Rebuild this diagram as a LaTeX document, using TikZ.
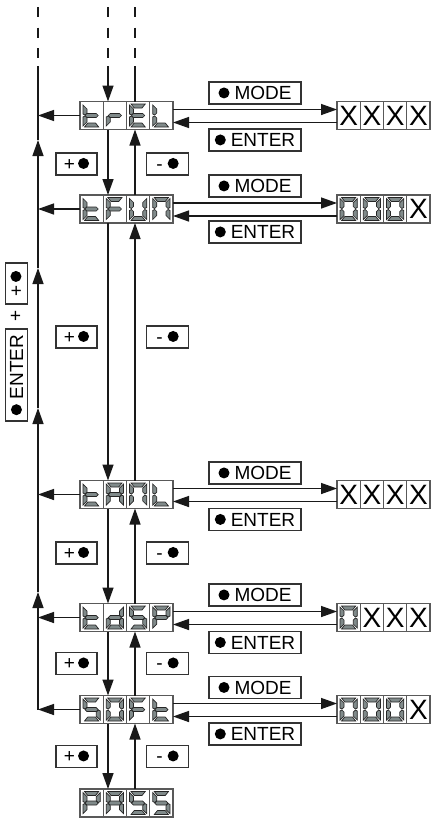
\documentclass[tikz,border=0pt]{standalone}
\usepackage{fontspec}
\setmainfont{Liberation Sans}
\usetikzlibrary{arrows.meta,calc,positioning}

\newcommand{\btndot}{\tikz[baseline=-6.6pt]\fill (0,0) circle (5.5pt);}

\tikzset{
  segstyle/.style={fill={rgb, 255:red, 128; green, 138; blue, 138},draw=black!85,line width=0.7pt},
  seg a/.pic={\path[segstyle] (4.5,2.5) -- (18.75,2.5) -- (15.5,6.5) -- (7.75,6.5) -- cycle;},
  seg d/.pic={\path[segstyle] (4.5,25.5) -- (18.75,25.5) -- (15.5,21.5) -- (7.75,21.5) -- cycle;},
  seg g/.pic={\path[segstyle] (5,14) -- (7,12) -- (16.25,12) -- (18.25,14) -- (16.25,16) -- (7,16) -- cycle;},
  seg f/.pic={\path[segstyle] (3,3.5) -- (7,7.5) -- (7,11.5) -- (5,13.5) -- (3,12.5) -- cycle;},
  seg b/.pic={\path[segstyle] (20.25,3.5) -- (16.25,7.5) -- (16.25,11.5) -- (18.25,13.5) -- (20.25,12.5) -- cycle;},
  seg e/.pic={\path[segstyle] (3,15.5) -- (5,14.5) -- (7,16.5) -- (7,20.5) -- (3,24.5) -- cycle;},
  seg c/.pic={\path[segstyle] (20.25,15.5) -- (18.25,14.5) -- (16.25,16.5) -- (16.25,20.5) -- (20.25,24.5) -- cycle;},
  seg X/.pic={\node[inner sep=0pt,font=\fontsize{28}{28}\selectfont] at (11.625,14) {X};},
}

% four cells of a display: #1 node, #2 segments of each cell
\newcommand{\cells}[2]{%
  \foreach \k in {1,2,3}
    \draw[celldiv] ($(#1.north west)+(\k*23.25,0)$) -- ($(#1.south west)+(\k*23.25,0)$);
  \foreach \segs [count=\i from 0] in {#2}
    \foreach \s in \segs
      \pic at ($(#1.north west)+(\i*23.25,0)$) {seg \s};
}

\begin{document}
\begin{tikzpicture}[x=1pt,y=-1pt,
  flow/.style={line width=1.4pt,draw=black!90,-{Triangle[length=16pt,width=11pt]}},
  bus/.style={line width=1.4pt,draw=black!90},
  topdash/.style={line width=2pt,draw=black!90,dash pattern=on 10pt off 10.5pt},
  disp/.style={draw=black!65,line width=1.2pt,minimum width=93pt,minimum height=28pt,inner sep=0pt,outer sep=0pt},
  celldiv/.style={draw=black!65,line width=1pt},
  keybox/.style={draw=black!80,line width=1.1pt,minimum height=22pt,inner sep=0pt,outer sep=0pt,font=\fontsize{19}{19}\selectfont},
  plusfont/.style={font=\fontsize{19}{19}\selectfont},
]
\useasboundingbox (0,0) rectangle (431,819);

%Displays of the menu
\node[disp] (trel) at (126.5,115.5) {};
\node[disp] (tfun) at (126.5,209) {};
\node[disp] (tanl) at (126.5,494.5) {};
\node[disp] (tdsp) at (126.5,617.5) {};
\node[disp] (soft) at (126.5,709.5) {};
\node[disp] (pass) at (126.5,803) {};
\cells{trel}{{d,e,f,g},{e,g},{a,d,e,f,g},{d,e,f}}
\cells{tfun}{{d,e,f,g},{a,e,f,g},{b,c,d,e,f},{a,b,c,e,f}}
\cells{tanl}{{d,e,f,g},{a,b,c,e,f,g},{a,b,c,e,f},{d,e,f}}
\cells{tdsp}{{d,e,f,g},{b,c,d,e,g},{a,c,d,f,g},{a,b,e,f,g}}
\cells{soft}{{a,c,d,f,g},{a,b,c,d,e,f},{a,e,f,g},{d,e,f,g}}
\cells{pass}{{a,b,e,f,g},{a,b,c,e,f,g},{a,c,d,f,g},{a,c,d,f,g}}

%Displays of the values
\node[disp] (val1) at (383.5,115.5) {};
\node[disp] (val2) at (383.5,209) {};
\node[disp] (val3) at (383.5,494.5) {};
\node[disp] (val4) at (383.5,617.5) {};
\node[disp] (val5) at (383.5,709.5) {};
\cells{val1}{X,X,X,X}
\cells{val2}{{a,b,c,d,e,f},{a,b,c,d,e,f},{a,b,c,d,e,f},X}
\cells{val3}{X,X,X,X}
\cells{val4}{{a,b,c,d,e,f},X,X,X}
\cells{val5}{{a,b,c,d,e,f},{a,b,c,d,e,f},{a,b,c,d,e,f},X}

%Lines coming from above
\draw[topdash] (38,7) -- (38,58);
\draw[topdash] (108,7) -- (108,58);
\draw[topdash] (135,7) -- (135,58);
\coordinate (bus0) at (38,66);
\coordinate (in0) at (108,66);
\coordinate (out0) at (135,66);
\draw[flow] (in0) -- (in0 |- trel.north);
\draw[bus] (out0 |- trel.north) -- (out0);

%Return line on the left
\coordinate (up1) at (38,140);
\coordinate (up2) at (38,268);
\coordinate (up3) at (38,408);
\coordinate (up4) at (38,592);
\coordinate (bus1) at (soft.west -| bus0);
\draw[flow] (bus1) -- (up4);
\draw[flow] (up4) -- (up3);
\draw[flow] (up3) -- (up2);
\draw[flow] (up2) -- (up1);
\draw[bus] (up1) -- (bus0);
\draw[flow] (trel.west) -- (trel.west -| bus0);
\draw[flow] (tfun.west) -- (tfun.west -| bus0);
\draw[flow] (tanl.west) -- (tanl.west -| bus0);
\draw[flow] (tdsp.west) -- (tdsp.west -| bus0);
\draw[flow] (soft.west) -- (bus1);

%Down and up between the menu displays
\draw[flow] ([xshift=-18.5pt]trel.south) -- ([xshift=-18.5pt]tfun.north);
\draw[flow] ([xshift=8.5pt]tfun.north) -- ([xshift=8.5pt]trel.south);
\draw[flow] ([xshift=-18.5pt]tfun.south) -- ([xshift=-18.5pt]tanl.north);
\draw[flow] ([xshift=8.5pt]tanl.north) -- ([xshift=8.5pt]tfun.south);
\draw[flow] ([xshift=-18.5pt]tanl.south) -- ([xshift=-18.5pt]tdsp.north);
\draw[flow] ([xshift=8.5pt]tdsp.north) -- ([xshift=8.5pt]tanl.south);
\draw[flow] ([xshift=-18.5pt]tdsp.south) -- ([xshift=-18.5pt]soft.north);
\draw[flow] ([xshift=8.5pt]soft.north) -- ([xshift=8.5pt]tdsp.south);
\draw[flow] ([xshift=-18.5pt]soft.south) -- ([xshift=-18.5pt]pass.north);
\draw[flow] ([xshift=8.5pt]pass.north) -- ([xshift=8.5pt]soft.south);

%To the values and back
\foreach \m/\v in {trel/val1,tfun/val2,tanl/val3,tdsp/val4,soft/val5} {
  \draw[flow] ($(\m.east)+(0,-6)$) -- ($(\v.west)+(0,-6)$);
  \draw[flow] ($(\v.west)+(0,7)$) -- ($(\m.east)+(0,7)$);
}

% Key Nodes
\node[keybox,minimum width=92pt] (mode1) at (255,93) {\btndot\hspace{5pt}MODE};
\node[keybox,minimum width=92pt] (enter1) at (255,140) {\btndot\hspace{5pt}ENTER};
\node[keybox,minimum width=92pt] (mode2) at (255,186) {\btndot\hspace{5pt}MODE};
\node[keybox,minimum width=92pt] (enter2) at (255,232) {\btndot\hspace{5pt}ENTER};
\node[keybox,minimum width=92pt] (mode3) at (255,473) {\btndot\hspace{5pt}MODE};
\node[keybox,minimum width=92pt] (enter3) at (255,519.5) {\btndot\hspace{5pt}ENTER};
\node[keybox,minimum width=92pt] (mode4) at (255,595) {\btndot\hspace{5pt}MODE};
\node[keybox,minimum width=92pt] (enter4) at (255,642.5) {\btndot\hspace{5pt}ENTER};
\node[keybox,minimum width=92pt] (mode5) at (255,687.5) {\btndot\hspace{5pt}MODE};
\node[keybox,minimum width=92pt] (enter5) at (255,734) {\btndot\hspace{5pt}ENTER};

% Plus and minus keys
\foreach \y [count=\n] in {164,337,553,663.5,756.5} {
  \node[keybox,minimum width=41pt] (plus\n) at (76.5,\y) {+\hspace{3pt}\btndot};
  \node[keybox,minimum width=42pt] (minus\n) at (167.5,\y) {-\hspace{5pt}\btndot};
}

% Keys for the way back
\node[keybox,minimum width=92pt,rotate=90] (enterb) at (16.5,375) {\btndot\hspace{5pt}ENTER};
\node[plusfont,inner sep=0pt,rotate=90] (andb) at (16.5,316) {+};
\node[keybox,minimum width=41pt,rotate=90] (plusb) at (16.5,283.5) {+\hspace{3pt}\btndot};

\end{tikzpicture}
\end{document}
